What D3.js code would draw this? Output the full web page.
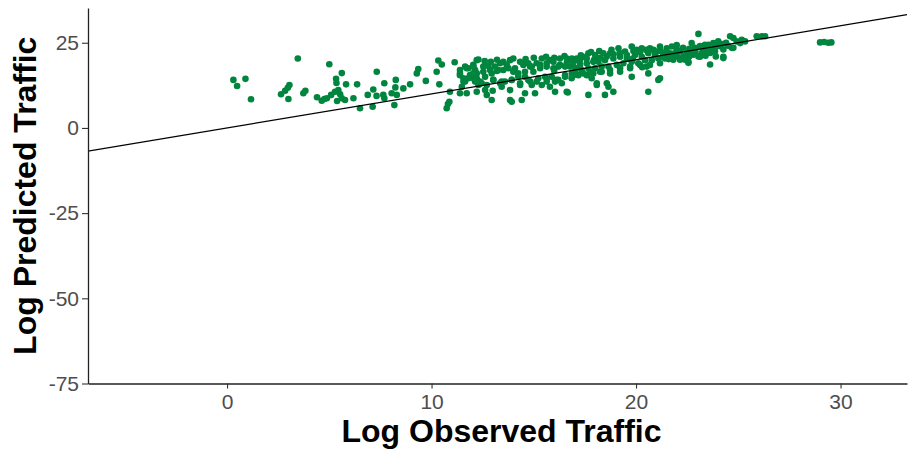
<!DOCTYPE html>
<html>
<head>
<meta charset="utf-8">
<script src="https://cdn.jsdelivr.net/npm/d3@7"></script>
<style>
  body { margin: 0; background: #fff; }
  svg { display: block; }
</style>
</head>
<body>
<div id="chart"></div>
<script>
// observed (x) and predicted (y) log traffic
const observed = [
  0.31, 0.49, 0.90, 1.17, 3.46, 2.64, 2.84, 2.97, 3.05, 3.0, 3.73, 3.83, 4.40, 4.63, 4.76, 4.88,
  5.0, 5.61, 5.33, 5.35, 5.82, 5.28, 5.44, 5.53, 5.61, 5.77, 5.09, 5.38, 6.18, 6.50, 6.36, 6.88,
  7.15, 7.32, 7.31, 7.12, 7.69, 7.64, 7.69, 8.18, 8.05, 8.25, 8.23, 8.30, 8.62, 8.95, 9.28, 9.35,
  9.72, 10.25, 10.33, 10.5, 10.38, 10.74, 10.87, 10.8, 10.9, 11.13,
  11.39, 11.64, 11.8, 11.39, 11.56, 11.64, 11.8, 11.88, 11.48, 11.39, 11.72, 12.21, 12.13, 12.04, 12.21, 12.29, 12.21,
  12.29, 12.05, 12.21, 12.13, 12.37, 12.62, 12.78, 13.1, 13.35, 13.51, 13.84, 14.33, 14.49, 14.73, 14.9, 15.14,
  15.39, 15.79, 15.96, 16.28, 16.61, 16.86, 17.1,
  12.53, 12.94, 13.27, 13.51, 13.76, 14.0, 14.24, 14.57, 14.98, 15.31, 15.63, 15.96, 16.2, 16.53, 16.77, 17.1,
  12.45, 12.7, 13.02, 13.35, 13.59, 13.92, 14.24, 14.57, 14.82, 15.22, 15.55, 15.88, 16.2, 16.53, 16.86,
  12.62, 12.7, 12.94, 13.43, 13.84, 14.33, 14.9, 15.39, 15.79, 16.04,
  13.84, 13.92, 14.41, 14.57, 15.06, 15.63, 16.61, 16.37,
  16.85, 17.1, 17.42, 17.67, 18.0, 18.4, 18.73, 19.14, 19.46, 19.79, 20.03, 20.28, 20.68, 21.01, 21.17, 21.5, 21.75, 21.99,
  16.93, 17.26, 17.59, 17.91, 18.16, 18.48, 18.89, 19.22, 19.55, 19.95, 20.28, 20.6, 20.93, 21.34, 21.66, 21.99,
  17.02, 17.34, 17.67, 18.0, 18.32, 18.65, 19.06, 19.38, 19.79, 20.11, 20.44, 20.77, 21.09, 21.42, 21.82,
  17.18, 17.59, 17.91, 18.32, 18.73, 19.22, 19.71, 20.2, 20.52,
  16.85, 17.83, 18.08, 18.57, 18.65, 18.89, 17.67, 18.48, 19.79, 20.6, 21.09, 20.6,
  23.05, 21.66, 21.91, 22.15, 22.48, 22.72, 22.72, 22.89, 23.13, 23.37, 23.54, 23.78, 24.02, 24.11, 24.27,
  24.6, 24.76, 24.92, 25.17, 25.33, 24.76, 25.09, 25.9, 26.15, 26.31,
  21.82, 22.15, 22.4, 22.56, 22.31, 22.8, 23.05, 23.21, 23.62, 23.7, 23.86, 24.27, 24.68, 23.62,
  24.27, 23.13, 22.56, 21.17,
  29.0, 29.2, 29.4, 29.55,
  11.39, 11.72, 12.04, 12.53, 12.86, 13.2, 13.68, 14.08, 14.49, 14.82, 15.31, 15.63, 16.0, 16.28, 16.61,
  16.93, 17.26, 17.59, 17.95, 18.24, 18.57, 18.9, 19.2, 19.55, 19.87, 20.2, 20.5, 20.85, 21.2, 21.5,
  11.56, 12.04, 12.37, 13.02, 13.43, 13.92, 14.33, 14.73, 15.14, 15.63, 16.12, 16.53, 16.94, 17.42, 17.75,
  18.24, 18.73, 19.22, 19.71, 20.3, 20.68, 21.17,
  22.0, 22.3, 22.6, 22.9, 23.3, 23.5, 23.9, 24.2, 24.4, 22.0, 22.6, 23.4, 23.9, 21.3, 21.6, 24.5,
  12.6, 12.9, 13.2, 14.0, 14.6, 15.0, 15.6, 16.0, 16.5, 17.3, 17.8, 18.2, 18.8,
  16.04, 16.66, 18.08, 19.84, 12.99
];
const predicted = [
  14.1, 12.3, 14.4, 8.4, 20.4, 9.9, 10.9, 11.8, 12.6, 8.5, 10.2, 10.9, 9.0, 8.0, 8.5, 8.7,
  18.7, 16.1, 14.4, 13.2, 12.8, 10.6, 11.1, 9.9, 8.7, 8.2, 9.7, 7.9, 8.7, 5.8, 12.8, 9.7,
  11.3, 16.5, 9.4, 6.2, 13.1, 9.7, 8.7, 6.7, 10.2, 14.1, 11.9, 9.7, 11.6, 12.8, 16.0, 17.3,
  13.8, 16.5, 19.8, 18.6, 12.8, 5.8, 7.7, 7.0, 10.6, 19.3,
  17.0, 18.0, 17.5, 15.5, 14.6, 13.6, 14.6, 15.5, 12.1, 10.2, 10.2, 19.9, 17.0, 16.0, 14.6, 12.6, 10.6,
  20.1, 18.0, 16.0, 13.6, 13.6, 15.0, 18.2, 18.0, 19.0, 19.4, 19.9, 19.4, 18.5, 19.0, 18.0, 19.0,
  20.4, 19.9, 19.4, 20.4, 20.4, 20.4, 19.9,
  16.5, 16.0, 17.0, 17.0, 17.5, 16.5, 16.0, 16.5, 16.5, 17.5, 18.0, 17.5, 18.0, 18.0, 18.0, 17.5,
  13.1, 12.6, 14.1, 13.1, 13.6, 14.1, 15.0, 15.0, 13.6, 14.6, 15.0, 15.0, 14.1, 15.5, 16.0,
  11.1, 9.7, 8.2, 12.1, 11.1, 12.6, 12.6, 12.6, 12.1, 13.6,
  8.2, 7.7, 8.2, 10.2, 10.2, 13.6, 10.6, 13.1,
  19.9, 20.4, 20.9, 21.9, 21.4, 21.9, 21.9, 23.4, 22.4, 23.9, 22.9, 23.4, 23.4, 22.4, 23.9, 23.4, 23.9, 24.3,
  18.0, 18.5, 19.0, 19.4, 19.4, 19.9, 20.4, 20.9, 21.4, 21.4, 20.9, 21.9, 21.4, 21.9, 21.9, 22.4,
  16.5, 17.0, 17.5, 17.5, 18.0, 18.0, 18.5, 19.0, 19.4, 19.0, 19.9, 19.9, 20.4, 20.4, 20.9,
  15.5, 15.5, 16.0, 16.5, 16.0, 16.5, 17.5, 18.5, 18.0,
  14.6, 14.6, 12.6, 13.1, 12.1, 10.6, 9.7, 9.7, 15.0, 16.0, 14.1, 10.6,
  27.6, 21.5, 22.0, 22.5, 22.0, 22.0, 24.9, 23.5, 24.0, 24.4, 24.4, 24.9, 25.4, 24.0, 23.0,
  26.9, 26.4, 25.4, 25.9, 25.4, 23.5, 24.9, 26.9, 26.9, 26.9,
  20.0, 20.0, 20.0, 19.1, 21.0, 21.5, 21.0, 22.0, 22.0, 23.0, 22.5, 20.5, 23.5, 18.6,
  20.9, 20.9, 19.4, 14.6,
  25.1, 25.2, 25.0, 25.1,
  16.0, 17.5, 18.5, 18.0, 17.0, 16.7, 18.5, 17.5, 19.0, 18.0, 18.5, 19.0, 16.8, 18.5, 19.0,
  19.4, 19.9, 20.4, 20.0, 20.6, 21.0, 21.6, 22.0, 20.3, 22.6, 22.2, 22.9, 22.9, 22.6, 21.9,
  13.6, 14.6, 13.1, 14.1, 13.6, 14.1, 13.1, 14.1, 13.6, 14.6, 14.1, 15.0, 15.5, 16.0, 16.5,
  16.5, 17.0, 17.5, 18.0, 17.8, 18.5, 19.0,
  23.0, 23.5, 23.2, 22.4, 23.0, 22.5, 23.8, 24.6, 25.0, 21.0, 21.0, 21.2, 21.0, 20.9, 20.2, 24.1,
  19.6, 19.4, 20.0, 20.4, 20.2, 20.6, 20.9, 20.6, 21.1, 21.3, 22.3, 22.6, 22.9,
  10.6, 10.4, 13.1, 20.4, 10.9
];
const xTicks = [0, 10, 20, 30];
const yTicks = [-75, -50, -25, 0, 25];

const width = 908, height = 454;
const margin = {top: 8, right: 1, bottom: 70.5, left: 88};

const svg = d3.select("#chart").append("svg")
  .attr("width", width)
  .attr("height", height);

const x = d3.scaleLinear()
  .domain([-6.8, 33.25])
  .range([margin.left, width - margin.right]);

const y = d3.scaleLinear()
  .domain([-75, 35.2])
  .range([height - margin.bottom, margin.top]);

const font = "'Liberation Sans', Arial, Helvetica, sans-serif";

svg.append("clipPath").attr("id", "panel")
  .append("rect")
  .attr("x", margin.left).attr("y", margin.top)
  .attr("width", width - margin.left - margin.right)
  .attr("height", height - margin.top - margin.bottom);

// points
svg.append("g")
  .selectAll("circle")
  .data(d3.range(observed.length))
  .join("circle")
    .attr("cx", i => x(observed[i]))
    .attr("cy", i => y(predicted[i]))
    .attr("r", 3.3)
    .attr("fill", "#00853e");

// y = x reference line
const xd = x.domain();
svg.append("line")
  .attr("clip-path", "url(#panel)")
  .attr("x1", x(xd[0])).attr("y1", y(xd[0]))
  .attr("x2", x(xd[1])).attr("y2", y(xd[1]))
  .attr("stroke", "#000")
  .attr("stroke-width", 1.2);

// axes
const xAxis = svg.append("g")
  .attr("transform", `translate(0,${height - margin.bottom})`)
  .call(d3.axisBottom(x).tickValues(xTicks).tickFormat(d => String(d))
    .tickSize(5).tickPadding(5.5).tickSizeOuter(0));

const yAxis = svg.append("g")
  .attr("transform", `translate(${margin.left},0)`)
  .call(d3.axisLeft(y).tickValues(yTicks).tickFormat(d => String(d))
    .tickSize(6).tickPadding(3).tickSizeOuter(0));

[xAxis, yAxis].forEach(g => {
  g.select(".domain").attr("stroke", "#222").attr("stroke-width", 1.3);
  g.selectAll(".tick line").attr("stroke", "#333").attr("stroke-width", 1.1);
  g.selectAll(".tick text")
    .attr("fill", "#4d4d4d")
    .style("font-family", font)
    .style("font-size", "21px");
});

// axis titles
svg.append("text")
  .attr("x", (margin.left + width - margin.right) / 2 + 4)
  .attr("y", 442)
  .attr("text-anchor", "middle")
  .style("font-family", font)
  .style("font-size", "32px")
  .style("font-weight", "bold")
  .text("Log Observed Traffic");

svg.append("text")
  .attr("transform", `translate(36,${(margin.top + height - margin.bottom) / 2}) rotate(-90)`)
  .attr("text-anchor", "middle")
  .style("font-family", font)
  .style("font-size", "32px")
  .style("font-weight", "bold")
  .text("Log Predicted Traffic");
</script>
</body>
</html>
